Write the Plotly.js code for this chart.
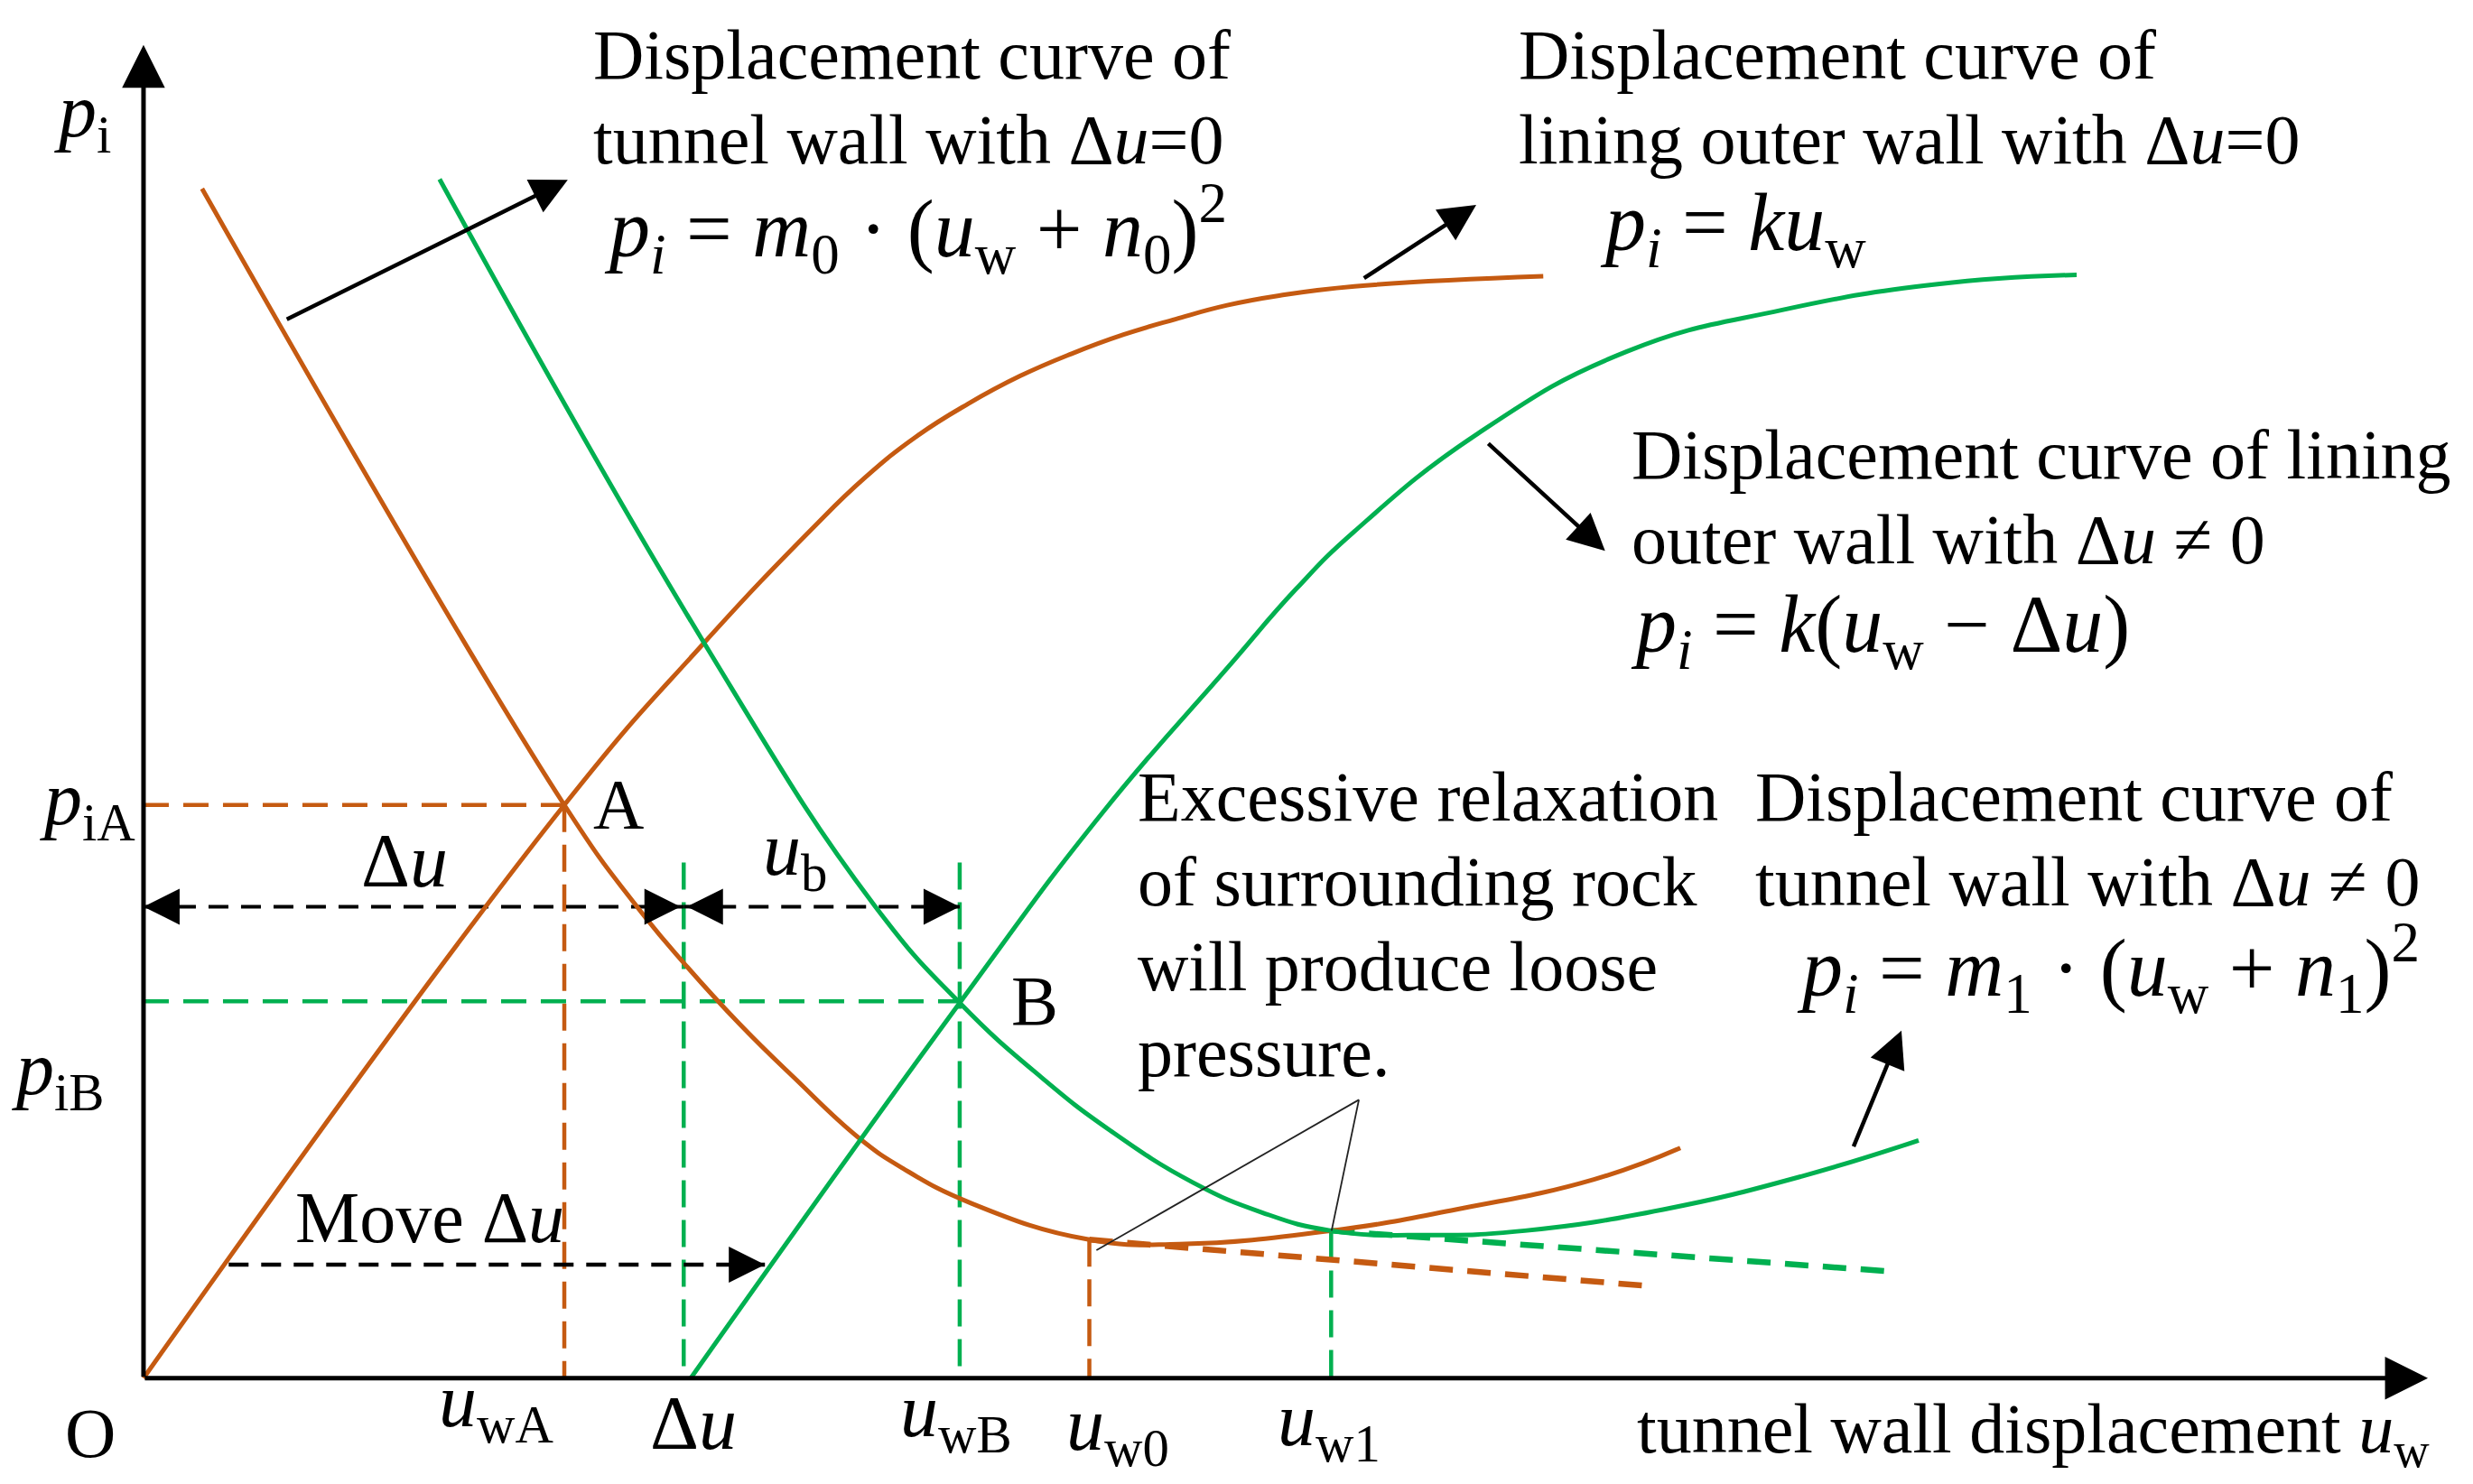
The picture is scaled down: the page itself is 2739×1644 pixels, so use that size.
<!DOCTYPE html>
<html><head><meta charset="utf-8">
<script src="https://cdn.plot.ly/plotly-3.0.1.min.js"></script>
<style>html,body{margin:0;padding:0;background:#fff;} #chart{width:2739px;height:1644px;}</style>
</head><body><div id="chart"></div>
<script>
// Schematic units, origin at O (u_w horizontal, p_i vertical)
// Displacement curve of lining outer wall with Δu = 0 (p_i = k u_w)
const liningDu0U = [0, 266.8, 353.7, 424.2, 457.1, 489.9, 522.8, 555.7, 588.5, 621.4, 654.3, 687.1, 720, 767.8, 887.5];
const liningDu0P = [0, 363.5, 464.4, 539, 570.8, 597.1, 617.9, 635.5, 649.7, 661.8, 671.6, 680.4, 686.5, 692.4, 698.8];
// Displacement curve of tunnel wall with Δu = 0
const tunnelDu0U = [37.1, 266.8, 311.7, 342.8, 378, 412, 454, 481.5, 525.3, 599.7, 656.7, 753, 832, 919.6, 974.4];
const tunnelDu0P = [754.3, 363.5, 300.5, 263, 224.5, 191, 152, 133, 110.7, 87.8, 85, 93.5, 106.9, 126, 146];
// Displacement curve of tunnel wall with Δu ≠ 0
const tunnelDuNU = [187.7, 355, 463.3, 517.5, 569, 613, 665.5, 709.3, 753, 814.4, 875.8, 963.4, 1051, 1125.5];
const tunnelDuNP = [760.4, 467, 300, 238, 191, 157, 124, 105, 93.5, 90.7, 93.5, 106.9, 127.9, 150.8];
// Displacement curve of lining outer wall with Δu ≠ 0 (p_i = k(u_w − Δu))
const liningDuNU = [347, 517.5, 608.2, 687.1, 731, 767.8, 846, 940.5, 1039, 1137.6, 1225.7];
const liningDuNP = [0, 238, 358.8, 450.3, 500.7, 537, 599, 651.1, 677.4, 693.8, 699.7];
// Loose-pressure tangents
const loose0U = [599.7, 956.9], loose0P = [87.8, 58.2];
const loose1U = [753, 1105.8], loose1P = [93.5, 67.8];
// Key displacements / pressures
const markNames = ['uwA', 'du', 'uwB', 'uw0', 'uw1'];
const markU = [266.8, 342.5, 517.5, 599.7, 753];
const pressNames = ['piA', 'piB'];
const pressP = [363.5, 239];
const guideTopP = 327;      // top of green dashed guides
const dimP = 299;           // level of Δu / u_b dimension arrows
const moveP = 72, moveU = [54, 394];
const axisEndU = 1448.4, axisEndP = 845.5;

const BROWN = '#C55A11', GREEN = '#00B050';
const FONT = 'Liberation Serif, Times New Roman, serif';
const M = {}; markNames.forEach((n, i) => M[n] = markU[i]);
const P = {}; pressNames.forEach((n, i) => P[n] = pressP[i]);

function curve(u, p, color) {
  return {x: u, y: p, type: 'scatter', mode: 'lines', hoverinfo: 'skip',
    line: {color: color, width: 5, shape: 'spline', smoothing: 1.3}};
}
function dashed(u, p, color, dash, w) {
  return {x: u, y: p, type: 'scatter', mode: 'lines', hoverinfo: 'skip',
    line: {color: color, width: w || 4.5, dash: dash}};
}
const D1 = '28px,16px', DV = '30px,14px', DK = '22px,14px';
const traces = [
  dashed([0, M.uwA], [P.piA, P.piA], BROWN, D1),
  dashed([M.uwA, M.uwA], [P.piA, 0], BROWN, DV),
  dashed([0, M.uwB], [P.piB, P.piB], GREEN, D1),
  dashed([M.du, M.du], [guideTopP, 0], GREEN, DV),
  dashed([M.uwB, M.uwB], [guideTopP, 0], GREEN, DV),
  dashed([M.uw0, M.uw0], [loose0P[0], 0], BROWN, DV),
  dashed([M.uw1, M.uw1], [loose1P[0], 0], GREEN, DV),
  dashed(loose0U, loose0P, BROWN, '26px,16px', 6.5),
  dashed(loose1U, loose1P, GREEN, '26px,16px', 6.5),
  dashed([0, M.du], [dimP, dimP], '#000', DK, 4),
  dashed([M.du, M.uwB], [dimP, dimP], '#000', DK, 4),
  dashed(moveU, [moveP, moveP], '#000', DK, 4.5),
  curve(liningDu0U, liningDu0P, BROWN),
  curve(tunnelDu0U, tunnelDu0P, BROWN),
  curve(tunnelDuNU, tunnelDuNP, GREEN),
  curve(liningDuNU, liningDuNP, GREEN)
];

const ann = [];
function arrow(x0, y0, x1, y1, w, s) {
  ann.push({x: x1, y: y1, ax: x0, ay: y0, xref: 'x', yref: 'y', axref: 'x', ayref: 'y',
    showarrow: true, arrowhead: 2, arrowsize: s || 1.8, arrowwidth: w || 4.5, arrowcolor: '#000',
    text: '', font: {size: 1}, standoff: 0});
}
function head(x, y, dir) {
  ann.push({x: x, y: y, ax: -14 * dir, ay: 0, xref: 'x', yref: 'y',
    showarrow: true, arrowhead: 2, arrowsize: 2.0, arrowwidth: 4, arrowcolor: '#000',
    text: '', font: {size: 1}, standoff: 0});
}
function txt(x, y, t, size, xa) {
  ann.push({x: x, y: y, xref: 'x', yref: 'y', text: t, showarrow: false,
    xanchor: xa || 'left', yanchor: 'middle', font: {family: FONT, size: size || 78, color: '#000'}});
}
const I = s => '<i>' + s + '</i>';
const du = 'Δ' + I('u');
const FS = 90;

// axes
arrow(0, 0, axisEndU, 0, 5, 1.9);
arrow(0, 0, 0, axisEndP, 5, 1.9);
// callout arrows
arrow(90, 671, 269, 760);
arrow(773, 697, 845, 744);
arrow(851.8, 593.5, 926.7, 524.6);
arrow(1083.9, 146, 1114.6, 220.4);
// dimension arrow heads
head(0, dimP, -1); head(M.du - 2, dimP, 1);
head(M.du + 2, dimP, -1); head(M.uwB, dimP, 1);
head(moveU[1], moveP, 1);

// texts
txt(284, 839.5, 'Displacement curve of');
txt(284, 785.4, 'tunnel wall with ' + du + '=0');
txt(291, 729, I('p') + '<sub>' + I('i') + '</sub> = ' + I('m') + '<sub>0</sub> · (' + I('u') + '<sub>w</sub> + ' + I('n') + '<sub>0</sub>)<sup>2</sup>', FS);
txt(870.8, 839.5, 'Displacement curve of');
txt(870.8, 785.4, 'lining outer wall with ' + du + '=0');
txt(922, 729, I('p') + '<sub>' + I('i') + '</sub> = ' + I('k') + I('u') + '<sub>w</sub>', FS);
txt(942.3, 585.8, 'Displacement curve of lining');
txt(942.3, 531.8, 'outer wall with ' + du + ' ≠ 0');
txt(942, 474, I('p') + '<sub>' + I('i') + '</sub> = ' + I('k') + '(' + I('u') + '<sub>w</sub> − ' + du + ')', FS);
txt(629.3, 368.9, 'Excessive relaxation');
txt(629.3, 314.8, 'of surrounding rock');
txt(629.3, 261, 'will produce loose');
txt(629.3, 206.8, 'pressure.');
txt(1020.9, 368.9, 'Displacement curve of');
txt(1020.9, 314.8, 'tunnel wall with ' + du + ' ≠ 0');
txt(1047, 260, I('p') + '<sub>' + I('i') + '</sub> = ' + I('m') + '<sub>1</sub> · (' + I('u') + '<sub>w</sub> + ' + I('n') + '<sub>1</sub>)<sup>2</sup>', FS);
txt(-58, 800, I('p') + '<sub>i</sub>', 84);
txt(-67, 364, I('p') + '<sub>iA</sub>', 84);
txt(-84.5, 193, I('p') + '<sub>iB</sub>', 84);
txt(284, 364.4, 'A');
txt(549, 239.5, 'B');
txt(136.6, 328.4, du, 84);
txt(391.7, 332, I('u') + '<sub>b</sub>', 84);
txt(95, 101.7, 'Move ' + du, 80);
txt(-51, -34.9, 'O');
txt(186, -18, I('u') + '<sub>wA</sub>', 84);
txt(320, -28.7, du, 84);
txt(478.5, -24, I('u') + '<sub>wB</sub>', 84);
txt(584, -33, I('u') + '<sub>w0</sub>', 84);
txt(718, -30, I('u') + '<sub>w1</sub>', 84);
txt(axisEndU + 2, -34.9, 'tunnel wall displacement ' + I('u') + '<sub>w</sub>', 78, 'right');

// callout lines for loose pressure
const shapes = [
  {type: 'line', xref: 'x', yref: 'y', x0: 770.6, y0: 176.5, x1: 604.2, y1: 81.1, line: {color: '#222', width: 1.8}},
  {type: 'line', xref: 'x', yref: 'y', x0: 770.6, y0: 176.5, x1: 753.3, y1: 93.5, line: {color: '#222', width: 1.8}}
];

const layout = {
  width: 2739, height: 1644, autosize: false,
  margin: {l: 0, r: 0, t: 0, b: 0, pad: 0},
  paper_bgcolor: '#fff', plot_bgcolor: '#fff', showlegend: false,
  xaxis: {range: [-91, 1477], visible: false, fixedrange: true},
  yaxis: {range: [-67.15, 874], visible: false, fixedrange: true},
  annotations: ann, shapes: shapes
};
Plotly.newPlot('chart', traces, layout, {staticPlot: true, displayModeBar: false});
</script></body></html>
